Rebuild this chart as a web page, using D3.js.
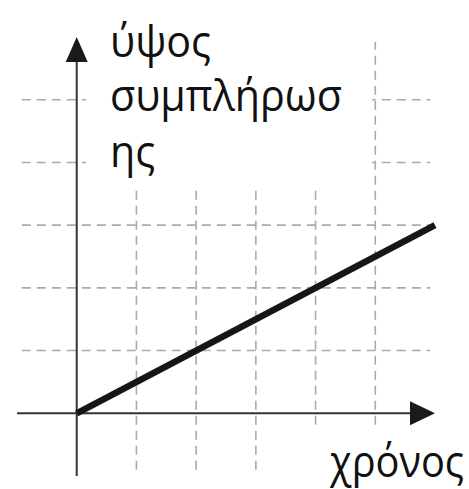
<!DOCTYPE html>
<html>
<head>
<meta charset="utf-8">
<script src="https://cdn.jsdelivr.net/npm/d3@7"></script>
<style>
  body { margin: 0; background: #fff; }
  text { font-family: "Open Sans", "Noto Sans", sans-serif; fill: #111; }
</style>
</head>
<body>
<svg width="469" height="489"></svg>
<script>
// data
var gridX = [1, 2, 3, 4, 5];
var gridY = [1, 2, 3, 4, 5];
var linePoints = [[0, 0], [6, 3]];
var yLabelLines = ["ύψος", "συμπλήρωσ", "ης"];
var xLabel = "χρόνος";

var svg = d3.select("svg"),
    width = +svg.attr("width"),
    height = +svg.attr("height");

var x = d3.scaleLinear().domain([-1, 6]).range([17, 435]);
var y = d3.scaleLinear().domain([-1, 6]).range([476, 37]);

var gridColor = "#aaa";

// dashed grid
var grid = svg.append("g").attr("class", "grid")
    .attr("stroke", gridColor)
    .attr("stroke-width", 1.6)
    .attr("stroke-dasharray", "9,6");

grid.selectAll("line.h")
    .data(gridY)
  .enter().append("line")
    .attr("class", "h")
    .attr("x1", x(-0.92))
    .attr("x2", x(5.92))
    .attr("y1", function(d) { return y(d); })
    .attr("y2", function(d) { return y(d); });

grid.selectAll("line.v")
    .data(gridX)
  .enter().append("line")
    .attr("class", "v")
    .attr("x1", function(d) { return x(d); })
    .attr("x2", function(d) { return x(d); })
    .attr("y1", y(-0.9))
    .attr("y2", y(5.92));

// white boxes behind the labels (they hide part of the grid)
svg.append("rect")
    .attr("x", 86).attr("y", 0)
    .attr("width", 286).attr("height", 190)
    .attr("fill", "#fff");

svg.append("rect")
    .attr("x", 300).attr("y", 425)
    .attr("width", 169).attr("height", 64)
    .attr("fill", "#fff");

// axes
var axisColor = "#333";
svg.append("line")
    .attr("x1", x(-1)).attr("x2", x(5.6))
    .attr("y1", y(0)).attr("y2", y(0))
    .attr("stroke", axisColor).attr("stroke-width", 2);

svg.append("line")
    .attr("x1", x(0)).attr("x2", x(0))
    .attr("y1", y(-1)).attr("y2", y(5.6))
    .attr("stroke", axisColor).attr("stroke-width", 2);

// arrow heads
svg.append("path")
    .attr("d", "M" + x(6) + "," + y(0) +
               "L" + (x(6) - 25) + "," + (y(0) - 12) +
               "L" + (x(6) - 25) + "," + (y(0) + 12) + "Z")
    .attr("fill", "#1a1a1a");

svg.append("path")
    .attr("d", "M" + x(0) + "," + y(6) +
               "L" + (x(0) - 11) + "," + (y(6) + 25) +
               "L" + (x(0) + 11) + "," + (y(6) + 25) + "Z")
    .attr("fill", "#1a1a1a");

// the data line
var line = d3.line()
    .x(function(d) { return x(d[0]); })
    .y(function(d) { return y(d[1]); });

svg.append("path")
    .datum(linePoints)
    .attr("d", line)
    .attr("fill", "none")
    .attr("stroke", "#161616")
    .attr("stroke-width", 6.5);

// labels: font size picked for the x-height, then squeezed a little
// sideways so the narrow original face is matched in width
var FONT_SIZE = 44;

function measure(str) {
  var t = svg.append("text").attr("font-size", FONT_SIZE).text(str);
  var w = t.node().getComputedTextLength();
  t.remove();
  return w;
}

function label(str, px, py, sx) {
  svg.append("text")
      .attr("font-size", FONT_SIZE)
      .attr("transform", "translate(" + px + "," + py + ") scale(" + sx + ",1)")
      .text(str);
}

var ySx = 232 / measure(yLabelLines[1]);
var baselines = [57, 111, 167];
yLabelLines.forEach(function(d, i) {
  label(d, 110, baselines[i], ySx);
});

label(xLabel, 330, 477, 134 / measure(xLabel));
</script>
</body>
</html>
